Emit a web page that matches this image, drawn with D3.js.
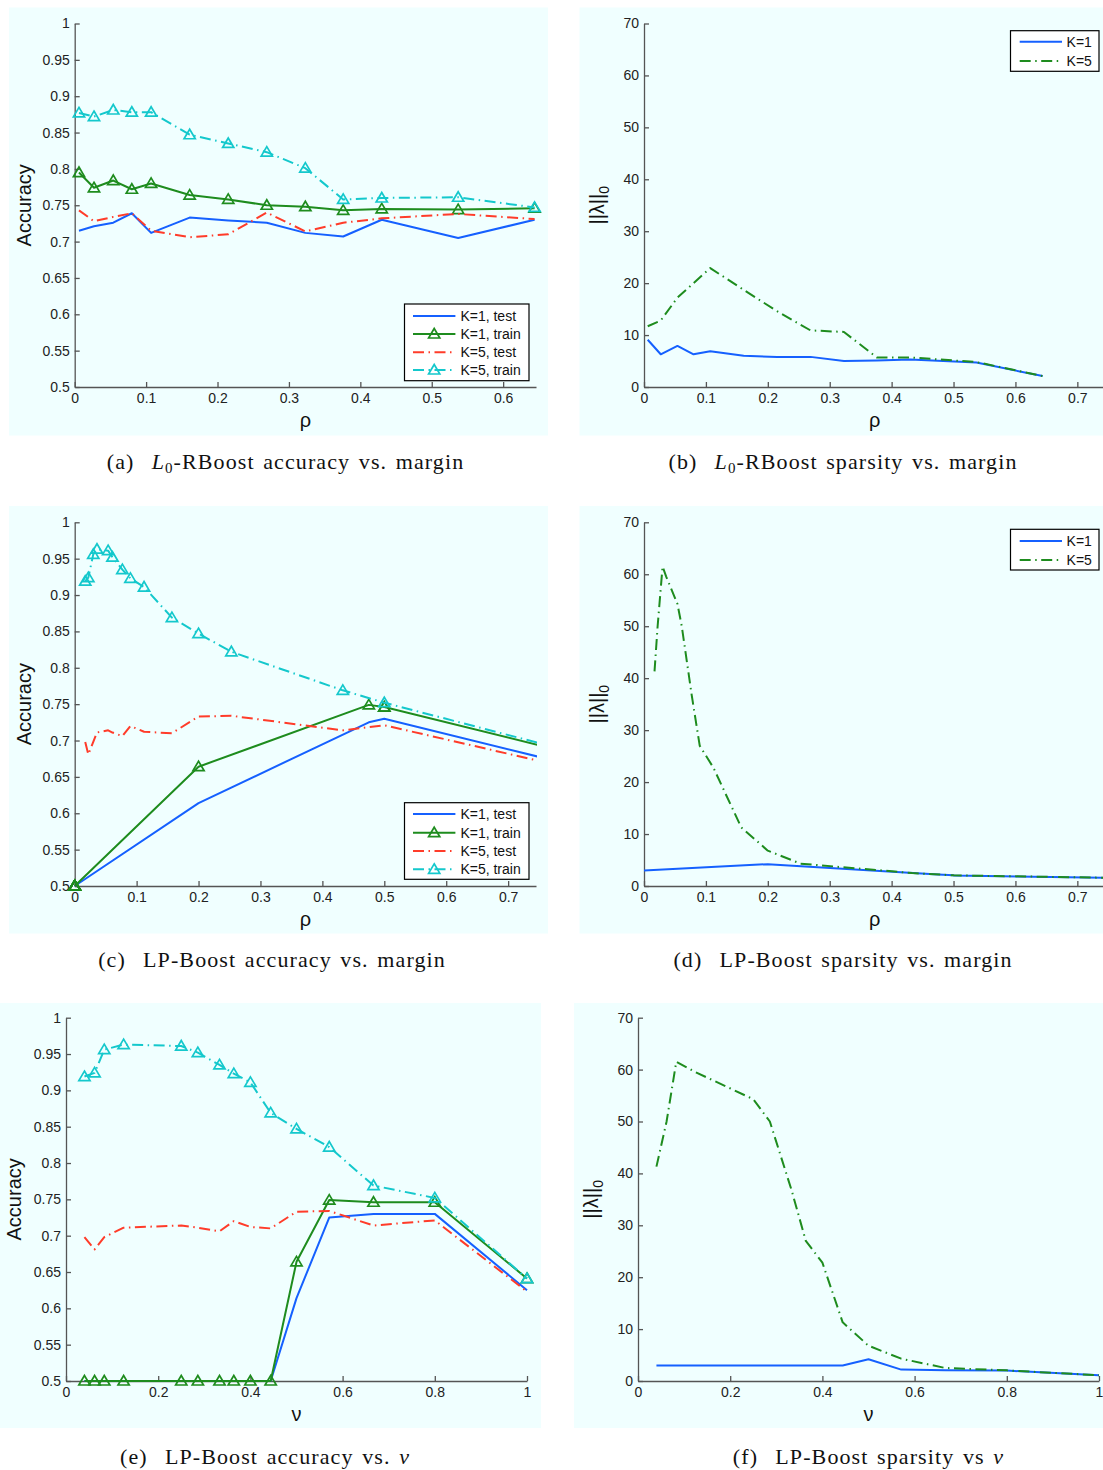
<!DOCTYPE html>
<html>
<head>
<meta charset="utf-8">
<script src="https://cdn.jsdelivr.net/npm/d3@7"></script>
<style>
  html, body { margin: 0; padding: 0; background: #ffffff; }
  svg { display: block; }
  .axis text { font-family: "Liberation Sans", Arial, Helvetica, sans-serif; font-size: 14px; fill: #222; }
  .axis path, .axis line { stroke: #555; stroke-width: 1.3; }
</style>
</head>
<body>
<svg id="fig" width="1103" height="1470"></svg>
<script>
// ---------- L0-RBoost: margin sweep ----------
const rhoL0        = [0.006, 0.027, 0.054, 0.080, 0.107, 0.161, 0.215, 0.269, 0.323, 0.376, 0.430, 0.537, 0.644];
const l0AccK1Test  = [0.715, 0.721, 0.726, 0.739, 0.712, 0.733, 0.729, 0.726, 0.712, 0.707, 0.730, 0.705, 0.730];
const l0AccK1Train = [0.795, 0.774, 0.784, 0.772, 0.780, 0.764, 0.758, 0.750, 0.748, 0.743, 0.745, 0.744, 0.746];
const l0AccK5Test  = [0.743, 0.728, 0.734, 0.739, 0.715, 0.706, 0.710, 0.740, 0.714, 0.726, 0.732, 0.738, 0.731];
const l0AccK5Train = [0.877, 0.872, 0.881, 0.878, 0.878, 0.847, 0.835, 0.823, 0.801, 0.758, 0.760, 0.761, 0.747];
const l0SparseK1   = [9.1, 6.3, 7.9, 6.3, 6.9, 6.0, 5.8, 5.8, 5.0, 5.1, 5.3, 4.7, 2.1];
const l0SparseK5   = [11.7, 12.8, 17.2, 20.0, 22.9, 18.7, 14.6, 10.9, 10.6, 5.7, 5.7, 4.8, 2.1];

// ---------- LP-Boost: nu sweep (with resulting margins) ----------
const nuLP         = [0.040, 0.062, 0.083, 0.125, 0.250, 0.286, 0.333, 0.364, 0.400, 0.444, 0.500, 0.571, 0.667, 0.800, 1.000];
const rhoLPK1      = [0, 0, 0, 0, 0, 0, 0, 0, 0, 0, 0.200, 0.475, 0.500, 0.500, 1.000];
const rhoLPK5      = [0.017, 0.022, 0.030, 0.036, 0.054, 0.061, 0.077, 0.090, 0.112, 0.157, 0.200, 0.253, 0.433, 0.500, 1.000];
const lpAccK1Test  = [0.5, 0.5, 0.5, 0.5, 0.5, 0.5, 0.5, 0.5, 0.5, 0.5, 0.614, 0.725, 0.730, 0.730, 0.625];
const lpAccK1Train = [0.5, 0.5, 0.5, 0.5, 0.5, 0.5, 0.5, 0.5, 0.5, 0.5, 0.664, 0.749, 0.746, 0.746, 0.641];
const lpAccK5Test  = [0.698, 0.681, 0.698, 0.711, 0.714, 0.711, 0.706, 0.720, 0.712, 0.710, 0.733, 0.734, 0.714, 0.721, 0.623];
const lpAccK5Train = [0.919, 0.924, 0.956, 0.963, 0.961, 0.952, 0.935, 0.923, 0.911, 0.869, 0.847, 0.822, 0.769, 0.752, 0.641];
const lpSparseK1   = [3, 3, 3, 3, 3, 3, 3, 3, 3, 3, 4.2, 2.2, 2.05, 2.0, 1.1];
const lpSparseK5   = [41.3, 50.0, 61.5, 59.5, 54.3, 50.0, 36.8, 27.0, 22.8, 11.3, 6.8, 4.3, 2.5, 2.05, 1.1];

// ---------- tick values ----------
const accTicks      = [0.5, 0.55, 0.6, 0.65, 0.7, 0.75, 0.8, 0.85, 0.9, 0.95, 1];
const sparsityTicks = [0, 10, 20, 30, 40, 50, 60, 70];
const rhoTicksL0    = [0, 0.1, 0.2, 0.3, 0.4, 0.5, 0.6];
const rhoTicksLP    = [0, 0.1, 0.2, 0.3, 0.4, 0.5, 0.6, 0.7];
const nuTicks       = [0, 0.2, 0.4, 0.6, 0.8, 1];

// ---------- styles ----------
const BLUE = "#1560ff", GREEN = "#1e8c1e", RED = "#ff3c2a", CYAN = "#14c8cc";
const DASHDOT = "11,4.5,1.5,4.5";
const BG = "#f0ffff";
const SANS = '"Liberation Sans", Arial, Helvetica, sans-serif';
const SERIF = '"Liberation Serif", "Times New Roman", serif';
const triangle = "M0,-5.5L5.6,4L-5.6,4Z";

const svg = d3.select("#fig");
const defs = svg.append("defs");

function accSeries(xK1, xK5, k1Test, k1Train, k5Test, k5Train) {
  return [
    { label: "K=1, test",  x: xK1, y: k1Test,  color: BLUE },
    { label: "K=1, train", x: xK1, y: k1Train, color: GREEN, marker: true },
    { label: "K=5, test",  x: xK5, y: k5Test,  color: RED,  dash: DASHDOT },
    { label: "K=5, train", x: xK5, y: k5Train, color: CYAN, dash: DASHDOT, marker: true }
  ];
}
function sparseSeries(xK1, xK5, k1, k5) {
  return [
    { label: "K=1", x: xK1, y: k1, color: BLUE },
    { label: "K=5", x: xK5, y: k5, color: GREEN, dash: DASHDOT }
  ];
}

const fmt2 = v => String(+v.toFixed(2));

const panels = [
  { id: "a", bg: [9, 7.5, 548, 435.5], xRange: [74.7, 536], yRange: [387, 23.5],
    xDomain: [0, 0.646], yDomain: [0.5, 1], xTicks: rhoTicksL0, yTicks: accTicks,
    yLabel: "acc", yLabelX: 25, xLabel: "ρ",
    series: accSeries(rhoL0, rhoL0, l0AccK1Test, l0AccK1Train, l0AccK5Test, l0AccK5Train),
    legend: { box: [404.5, 304, 529, 380.7], line: [413, 455.4], textX: 460.4, rows: [316, 334, 352.3, 370] },
    caption: { cx: 285.5, y: 469, parts: [["(a)  "], ["L", "it"], ["0", "sub"], ["-RBoost accuracy vs. margin"]] } },
  { id: "b", bg: [579.5, 7.5, 1103, 435.5], xRange: [644, 1105.2], yRange: [387, 23.5],
    xDomain: [0, 0.745], yDomain: [0, 70], xTicks: rhoTicksLP, yTicks: sparsityTicks,
    yLabel: "norm", yLabelX: 598, xLabel: "ρ",
    series: sparseSeries(rhoL0, rhoL0, l0SparseK1, l0SparseK5),
    legend: { box: [1010.5, 30.7, 1099, 71.3], line: [1019.7, 1062], textX: 1066.6, rows: [41.7, 61] },
    caption: { cx: 843, y: 469, parts: [["(b)  "], ["L", "it"], ["0", "sub"], ["-RBoost sparsity vs. margin"]] } },
  { id: "c", bg: [9, 506, 548, 933.5], xRange: [74.7, 536], yRange: [886, 522.3],
    xDomain: [0, 0.745], yDomain: [0.5, 1], xTicks: rhoTicksLP, yTicks: accTicks,
    yLabel: "acc", yLabelX: 25, xLabel: "ρ",
    series: accSeries(rhoLPK1, rhoLPK5, lpAccK1Test, lpAccK1Train, lpAccK5Test, lpAccK5Train),
    legend: { box: [404.5, 802.7, 529, 879.3], line: [413, 455.4], textX: 460.4, rows: [814, 832.7, 851, 869.3] },
    caption: { cx: 272, y: 967, parts: [["(c)  LP-Boost accuracy vs. margin"]] } },
  { id: "d", bg: [579.5, 506, 1103, 933.5], xRange: [644, 1105.2], yRange: [886, 522.3],
    xDomain: [0, 0.745], yDomain: [0, 70], xTicks: rhoTicksLP, yTicks: sparsityTicks,
    yLabel: "norm", yLabelX: 598, xLabel: "ρ",
    series: sparseSeries(rhoLPK1, rhoLPK5, lpSparseK1, lpSparseK5),
    legend: { box: [1010.5, 529.3, 1099, 570], line: [1019.7, 1062], textX: 1066.6, rows: [541, 560] },
    caption: { cx: 843, y: 967, parts: [["(d)  LP-Boost sparsity vs. margin"]] } },
  { id: "e", bg: [0, 1003, 541, 1428], xRange: [66, 527], yRange: [1381, 1017.7],
    xDomain: [0, 1], yDomain: [0.5, 1], xTicks: nuTicks, yTicks: accTicks,
    yLabel: "acc", yLabelX: 15, xLabel: "ν",
    series: accSeries(nuLP, nuLP, lpAccK1Test, lpAccK1Train, lpAccK5Test, lpAccK5Train),
    legend: null,
    caption: { cx: 265, y: 1464, parts: [["(e)  LP-Boost accuracy vs. "], ["ν", "it"]] } },
  { id: "f", bg: [574, 1003, 1103, 1428], xRange: [638, 1099], yRange: [1381, 1017.7],
    xDomain: [0, 1], yDomain: [0, 70], xTicks: nuTicks, yTicks: sparsityTicks,
    yLabel: "norm", yLabelX: 592, xLabel: "ν",
    series: sparseSeries(nuLP, nuLP, lpSparseK1, lpSparseK5),
    legend: null,
    caption: { cx: 868.5, y: 1464, parts: [["(f)  LP-Boost sparsity vs "], ["ν", "it"]] } }
];

function drawPanel(p) {
  const g = svg.append("g").attr("class", "panel-" + p.id);
  g.append("rect")
    .attr("x", p.bg[0]).attr("y", p.bg[1])
    .attr("width", p.bg[2] - p.bg[0]).attr("height", p.bg[3] - p.bg[1])
    .attr("fill", BG);

  const x = d3.scaleLinear().domain(p.xDomain).range(p.xRange);
  const y = d3.scaleLinear().domain(p.yDomain).range(p.yRange);

  // axes (left and bottom only, ticks pointing inward)
  const yAxis = d3.axisLeft(y).tickValues(p.yTicks).tickFormat(fmt2)
    .tickSizeInner(-5).tickSizeOuter(0).tickPadding(5);
  const xAxis = d3.axisBottom(x).tickValues(p.xTicks).tickFormat(fmt2)
    .tickSizeInner(-5).tickSizeOuter(0).tickPadding(6);
  g.append("g").attr("class", "axis")
    .attr("transform", `translate(${p.xRange[0]},0)`).call(yAxis);
  g.append("g").attr("class", "axis")
    .attr("transform", `translate(0,${p.yRange[0]})`).call(xAxis);

  // clipping for the lines
  const cid = "clip-" + p.id;
  defs.append("clipPath").attr("id", cid).append("rect")
    .attr("x", p.xRange[0] - 2).attr("y", p.yRange[1] - 2)
    .attr("width", p.xRange[1] - p.xRange[0] + 3)
    .attr("height", p.yRange[0] - p.yRange[1] + 4);

  const line = d3.line().x(d => x(d[0])).y(d => y(d[1]));
  p.series.forEach(s => {
    const pts = s.x.map((xv, i) => [xv, s.y[i]]);
    g.append("path").datum(pts)
      .attr("clip-path", `url(#${cid})`)
      .attr("d", line)
      .attr("fill", "none")
      .attr("stroke", s.color)
      .attr("stroke-width", 2)
      .attr("stroke-linejoin", "round")
      .attr("stroke-dasharray", s.dash || null);
    if (s.marker) {
      g.selectAll(null)
        .data(pts.filter(d => d[0] >= p.xDomain[0] && d[0] <= p.xDomain[1]))
        .join("path")
        .attr("d", triangle)
        .attr("transform", d => `translate(${x(d[0])},${y(d[1])})`)
        .attr("fill", "none")
        .attr("stroke", s.color)
        .attr("stroke-width", 1.7);
    }
  });

  // axis labels
  const midY = (p.yRange[0] + p.yRange[1]) / 2;
  const midX = (p.xRange[0] + p.xRange[1]) / 2;
  const yl = g.append("text")
    .attr("transform", `translate(${p.yLabelX + 6},${midY}) rotate(-90)`)
    .attr("text-anchor", "middle")
    .attr("font-family", SANS).attr("font-size", 20).attr("fill", "#111");
  if (p.yLabel === "acc") {
    yl.text("Accuracy");
  } else {
    yl.append("tspan").text("||λ||");
    yl.append("tspan").attr("font-size", 14).attr("dy", 5).text("0");
  }
  g.append("text")
    .attr("x", midX).attr("y", p.yRange[0] + 40)
    .attr("text-anchor", "middle")
    .attr("font-family", SANS).attr("font-size", 20).attr("fill", "#111")
    .text(p.xLabel);

  // legend
  if (p.legend) {
    const L = p.legend;
    const lg = g.append("g");
    lg.append("rect")
      .attr("x", L.box[0]).attr("y", L.box[1])
      .attr("width", L.box[2] - L.box[0]).attr("height", L.box[3] - L.box[1])
      .attr("fill", "#ffffff").attr("stroke", "#000").attr("stroke-width", 1.2);
    p.series.forEach((s, i) => {
      const ry = L.rows[i];
      lg.append("line")
        .attr("x1", L.line[0]).attr("x2", L.line[1]).attr("y1", ry).attr("y2", ry)
        .attr("stroke", s.color).attr("stroke-width", 2)
        .attr("stroke-dasharray", s.dash || null);
      if (s.marker) {
        lg.append("path").attr("d", triangle)
          .attr("transform", `translate(${(L.line[0] + L.line[1]) / 2},${ry})`)
          .attr("fill", "none").attr("stroke", s.color).attr("stroke-width", 1.7);
      }
      lg.append("text")
        .attr("x", L.textX).attr("y", ry + 5)
        .attr("font-family", SANS).attr("font-size", 14).attr("fill", "#111")
        .text(s.label);
    });
  }

  // caption
  const cap = svg.append("text")
    .attr("x", p.caption.cx).attr("y", p.caption.y)
    .attr("text-anchor", "middle")
    .attr("font-family", SERIF).attr("font-size", 22).attr("fill", "#111")
    .attr("letter-spacing", 1.1).attr("word-spacing", 2)
    .style("white-space", "pre");
  let shifted = false;
  p.caption.parts.forEach(([txt, kind]) => {
    const t = cap.append("tspan").text(txt);
    if (kind === "it") t.attr("font-style", "italic");
    if (kind === "sub") { t.attr("font-size", 15).attr("dy", 4); shifted = true; }
    else if (shifted) { t.attr("dy", -4); shifted = false; }
  });
}

panels.forEach(drawPanel);
</script>
</body>
</html>
